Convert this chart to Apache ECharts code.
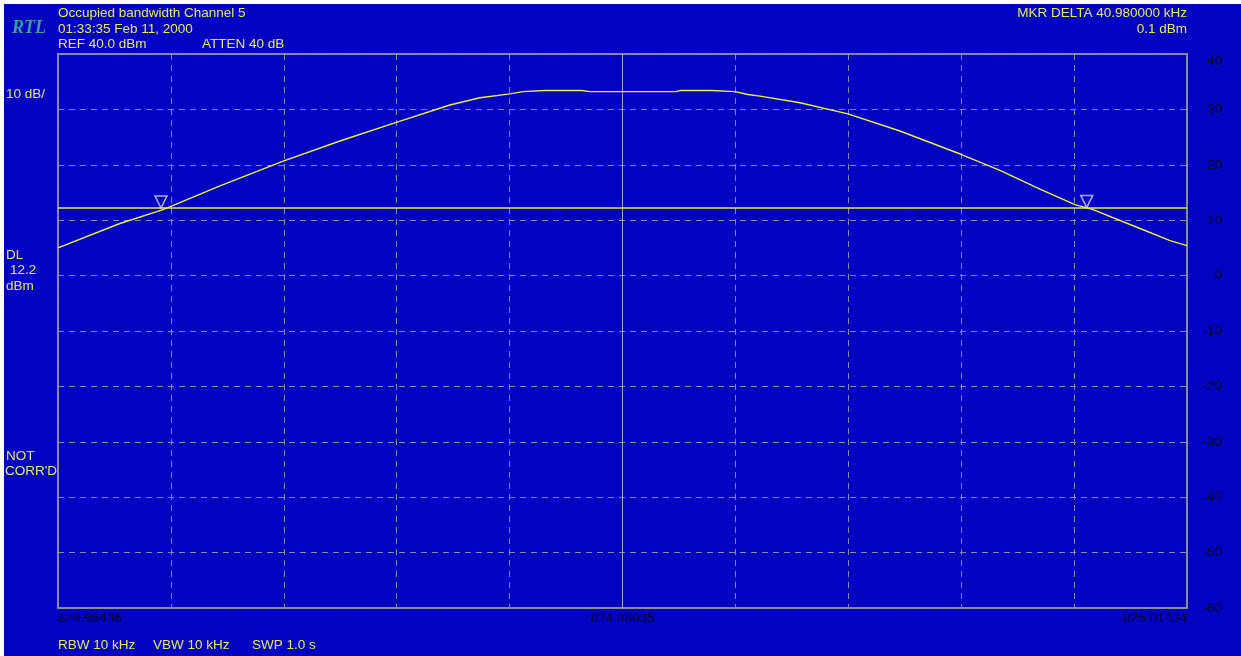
<!DOCTYPE html>
<html>
<head>
<meta charset="utf-8">
<script src="https://cdn.jsdelivr.net/npm/echarts@6/dist/echarts.min.js"></script>
<style>
  html, body { margin: 0; padding: 0; background: #fff; }
  #chart { width: 1241px; height: 656px; }
</style>
</head>
<body>
<div id="chart"></div>
<script>
// trace: offset from start frequency (kHz) and level (dBm)
var traceKHz = [0.00, 2.74, 4.65, 7.17, 10.00, 12.48, 15.01, 17.35, 18.68, 20.01, 20.58, 21.56,
  23.20, 23.55, 23.86, 27.36, 27.53, 28.95, 29.97, 30.54, 31.08, 32.85, 34.97, 37.27,
  39.97, 41.70, 43.47, 45.02, 45.82, 47.90, 49.23, 49.98];
var traceDbm = [5.0, 9.4, 11.9, 16.2, 20.7, 24.3, 27.7, 30.8, 32.1, 32.8, 33.2, 33.4,
  33.4, 33.2, 33.2, 33.2, 33.4, 33.4, 33.2, 32.7, 32.4, 31.2, 29.2, 26.1,
  21.9, 19.0, 15.6, 12.8, 11.9, 8.5, 6.3, 5.4];
// markers
var markerKHz = [4.56, 45.54];
var markerDbm = [12.2, 12.3];
// display line
var displayLine = 12.2;
// axes
var spanKHz = 49.98;
var xTickLabels = ['824.96436', '', '', '', '', '824.98935', '', '', '', '', '825.01434'];
var yMin = -60, yMax = 40, yStep = 10;

var divKHz = spanKHz / 10;
var traceData = traceKHz.map(function (k, i) { return [k / divKHz, traceDbm[i]]; });
var markerData = markerKHz.map(function (k, i) { return [k / divKHz, markerDbm[i]]; });

var yellow = '#e8e860';
var font = 'Liberation Sans, Arial, sans-serif';
function txt(x, y, s, align) {
  return {
    type: 'text', left: align === 'right' ? null : x, right: align === 'right' ? x : null, top: y,
    style: { text: s, fill: yellow, font: '13.5px ' + font }
  };
}

var chart = echarts.init(document.getElementById('chart'));
chart.setOption({
  backgroundColor: '#ffffff',
  animation: false,
  grid: {
    left: 58, top: 54, width: 1129, height: 554,
    show: true, borderColor: '#8c8c8c', borderWidth: 2, backgroundColor: 'transparent'
  },
  xAxis: {
    type: 'value', min: 0, max: 10, interval: 1,
    axisLine: { show: false }, axisTick: { show: false },
    splitLine: { show: true, lineStyle: { color: '#8888b0', type: [6, 5], width: 1 } },
    axisLabel: {
      color: '#000028', fontSize: 13.5, fontFamily: font, margin: 3,
      align: 'center', alignMinLabel: 'left', alignMaxLabel: 'right',
      showMinLabel: true, showMaxLabel: true,
      formatter: function (v) { return xTickLabels[Math.round(v)] || ''; }
    }
  },
  yAxis: {
    type: 'value', position: 'right', min: yMin, max: yMax, interval: yStep,
    axisLine: { show: false }, axisTick: { show: false },
    splitLine: { show: true, lineStyle: { color: '#8888b0', type: [6, 5], width: 1 } },
    axisLabel: {
      color: '#000028', fontSize: 13.5, fontFamily: font, margin: 35, align: 'right',
      verticalAlignMaxLabel: 'top', padding: [0, 0, 0, 0]
    }
  },
  graphic: [
    { type: 'rect', left: 4, top: 4, shape: { width: 1237, height: 652 }, style: { fill: '#0202c2' }, z: -10 },
    { type: 'text', left: 12, top: 19, style: { text: 'RTL', fill: '#3a9ea0', font: 'italic bold 18px Liberation Serif, serif' } },
    txt(58, 6, 'Occupied bandwidth Channel 5'),
    txt(58, 22, '01:33:35 Feb 11, 2000'),
    txt(58, 37, 'REF 40.0 dBm'),
    txt(202, 37, 'ATTEN 40 dB'),
    txt(54, 6, 'MKR DELTA 40.980000 kHz', 'right'),
    txt(54, 22, '0.1 dBm', 'right'),
    txt(6, 87, '10 dB/'),
    txt(6, 248, 'DL'),
    txt(10, 263, '12.2'),
    txt(6, 279, 'dBm'),
    txt(6, 449, 'NOT'),
    txt(5, 464, "CORR'D"),
    txt(58, 638, 'RBW 10 kHz'),
    txt(153, 638, 'VBW 10 kHz'),
    txt(252, 638, 'SWP 1.0 s')
  ],
  series: [
    {
      type: 'line', data: traceData, showSymbol: false, z: 5,
      lineStyle: { color: '#f0f040', width: 1.4 },
      markLine: {
        silent: true, symbol: 'none', label: { show: false },
        data: [
          { xAxis: 5, lineStyle: { color: '#a8a89c', type: 'solid', width: 1 } },
          { yAxis: displayLine, lineStyle: { color: '#e8e850', type: 'solid', width: 1.5 } }
        ]
      }
    },
    {
      type: 'scatter', data: markerData, z: 6,
      symbol: 'path://M0,0 L12,0 L6,12 Z', symbolSize: [12, 12], symbolOffset: [0, '-50%'],
      itemStyle: { color: 'rgba(0,0,0,0)', borderColor: '#d8d8f8', borderWidth: 1.5 }
    }
  ]
});
</script>
</body>
</html>
